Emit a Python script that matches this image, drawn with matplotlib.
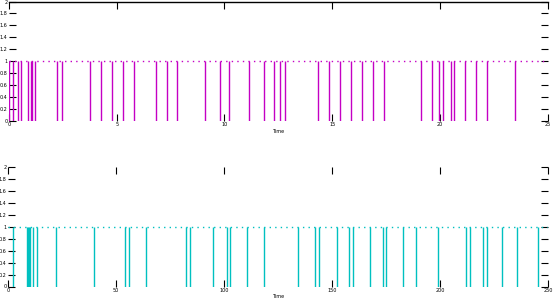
import numpy as np
import matplotlib.pyplot as plt

# event times (signal drops from 1 to 0)
top_events = [0.01, 0.2, 0.43, 0.54, 0.9, 1.02, 1.08, 1.22, 2.24, 2.45, 3.76, 4.27,
              4.77, 5.29, 5.8, 6.82, 7.33, 7.82, 9.09, 9.79, 10.2, 11.13, 11.82,
              12.3, 12.59, 12.82, 14.36, 14.87, 15.38, 15.89, 16.4, 16.91, 17.42,
              19.13, 19.64, 19.97, 20.15, 20.49, 20.66, 21.17, 21.68, 22.19, 23.49]
top_level = 1.0
top_xlim = (0, 25)
top_xticks = [0, 5, 10, 15, 20, 25]

bot_events = [2.5, 8.9, 9.3, 9.7, 10.1, 11.9, 13.6, 22.4, 40.0, 54.3, 56.0, 63.9,
              82.5, 84.3, 95.0, 101.3, 102.8, 110.6, 118.6, 134.4, 142.3, 144.1,
              152.2, 157.9, 159.7, 167.5, 173.7, 175.2, 183.0, 189.0, 199.2, 212.2,
              214.0, 220.0, 221.9, 228.7, 235.8, 245.4]
bot_level = 1.0
bot_xlim = (0, 250)
bot_xticks = [0, 50, 100, 150, 200, 250]

yticks = [0, 0.2, 0.4, 0.6, 0.8, 1, 1.2, 1.4, 1.6, 1.8, 2]

fig = plt.figure(figsize=(5.54, 3.0), dpi=100)
ax1 = fig.add_axes([0.016, 0.597, 0.973, 0.398])
ax2 = fig.add_axes([0.014, 0.045, 0.975, 0.398])


def draw(ax, events, level, xlim, xticks, color):
    ax.vlines(events, 0, level, color=color, lw=1.0)
    ax.plot(xlim, [level, level], color=color, lw=1.0, linestyle=(0, (1, 3)))
    ax.set_xlim(*xlim)
    ax.set_ylim(0, 2)
    ax.set_xticks(xticks)
    ax.set_yticks(yticks)
    ax.set_yticklabels([f"{v:g}" for v in yticks])
    ax.tick_params(direction="in", length=5, width=0.8, labelsize=3.5, pad=1,
                   top=True, right=True)
    for s in ax.spines.values():
        s.set_visible(False)
    ax.set_xlabel("Time", fontsize=3.5, labelpad=1)


draw(ax1, top_events, top_level, top_xlim, top_xticks, "#c400c4")
ax1.spines["top"].set_visible(True)
ax1.spines["top"].set_linewidth(1.0)
draw(ax2, bot_events, bot_level, bot_xlim, bot_xticks, "#00c0c0")

fig.savefig("out.png", dpi=100)
